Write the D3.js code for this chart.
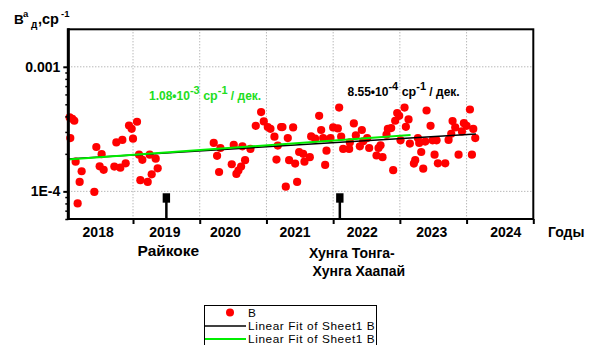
<!DOCTYPE html>
<html>
<head>
<meta charset="utf-8">
<script src="https://cdn.jsdelivr.net/npm/d3@7/dist/d3.min.js"></script>
<style>
  html, body { margin: 0; padding: 0; background: #fff; }
  svg { display: block; font-family: "Liberation Sans", Arial, sans-serif; }
  .axis path, .axis line { stroke: #000; }
  .axis text { font-family: "Liberation Sans", Arial, sans-serif; font-weight: bold; fill: #000; }
</style>
</head>
<body>
<svg id="chart" width="594" height="345"></svg>
<script>
// Measurement dates (decimal years)
const obsYears = [
  2018.05, 2018.09, 2018.12, 2018.06, 2018.14, 2018.23, 2018.20, 2018.17, 2018.42, 2018.45,
  2018.53, 2018.50, 2018.56, 2018.75, 2018.84, 2018.72, 2018.81, 2018.89, 2018.94, 2018.98,
  2019.06, 2019.00, 2019.09, 2019.14, 2019.25, 2019.34, 2019.37, 2019.28, 2019.11, 2019.22,
  2020.21, 2020.31, 2020.26, 2020.51, 2020.64, 2020.76, 2020.68, 2020.48, 2020.62, 2020.58,
  2020.55, 2020.29, 2020.92, 2020.96, 2020.84, 2021.02, 2021.06, 2021.12, 2021.22, 2021.17,
  2021.15,
  2022.09, 2021.79, 2021.24, 2021.40, 2021.32, 2021.82, 2022.00, 2022.07, 2022.31, 2022.43,
  2022.82, 2021.67, 2021.73, 2021.85, 2021.96, 2022.12, 2022.34, 2022.51, 2022.25, 2022.45,
  2022.80, 2021.90, 2022.15, 2022.24, 2022.40, 2022.54, 2022.68, 2022.71, 2022.65, 2022.74,
  2021.49, 2021.55, 2021.65, 2021.34, 2021.43, 2021.57, 2021.88, 2021.29, 2021.46,
  2023.07, 2022.96, 2022.99, 2022.93, 2023.13, 2022.87, 2023.09, 2023.40, 2023.46, 2024.05,
  2023.79, 2023.83, 2023.96, 2024.00, 2024.10, 2023.93, 2023.77, 2024.13, 2023.73, 2023.01,
  2023.15, 2023.27, 2023.29, 2023.38, 2023.49, 2023.55, 2023.32, 2023.52, 2023.88, 2024.08,
  2023.23, 2023.21, 2023.57, 2023.68, 2023.35, 2022.90
];
// B values, in units of 1e-4 sr^-1
const obsB = [
  3.92, 3.82, 3.69, 2.68, 1.73, 1.45, 1.19, 0.80, 0.99, 2.27,
  1.99, 1.59, 1.49, 2.47, 2.59, 1.58, 1.55, 1.68, 3.38, 3.18,
  3.62, 2.65, 1.97, 1.79, 1.97, 1.83, 1.53, 1.37, 1.23, 1.19,
  2.45, 2.23, 1.93, 2.36, 2.30, 2.19, 1.78, 1.65, 1.58, 1.47,
  1.38, 1.43, 4.33, 3.64, 3.36, 3.28, 3.18, 2.75, 3.28, 2.33,
  1.80,
  4.71, 4.04, 3.28, 3.26, 2.68, 3.11, 3.26, 3.20, 3.51, 3.11,
  3.17, 2.76, 2.65, 2.68, 2.68, 2.75, 2.81, 2.68, 2.47, 2.52,
  2.85, 2.12, 2.19, 2.19, 2.30, 2.23, 2.23, 2.34, 1.94, 1.88,
  2.07, 2.00, 1.88, 1.78, 1.67, 1.73, 1.63, 1.09, 1.19,
  4.71, 4.25, 4.04, 3.69, 3.78, 3.22, 3.30, 4.46, 3.36, 4.54,
  3.67, 3.26, 3.53, 3.36, 3.17, 3.03, 2.90, 2.68, 2.59, 2.57,
  2.42, 2.68, 2.45, 2.51, 2.57, 2.57, 2.07, 1.97, 1.97, 1.97,
  1.78, 1.67, 1.68, 1.68, 1.52, 1.48
];

// Linear fits: full record (black) and up to early 2023 (green)
const fitAllYears = [2018.02, 2024.14];
const fitAllB = [1.82, 2.89];
const fitPartYears = [2018.02, 2023.16];
const fitPartB = [1.80, 2.84];

// Volcanic eruptions
const eruptionYears = [2019.5, 2022.1];
const eruptionLevel = 0.885; // 1e-4 sr^-1
const eruptionNames = [["Райкоке"], ["Хунга Тонга-", "Хунга Хаапай"]];

// Axis ticks
const yTickValues = [1e-4, 1e-3];
const yTickLabels = ["1E-4", "0.001"];
const yMinorTicks = [6e-5, 7e-5, 8e-5, 9e-5, 2e-4, 3e-4, 4e-4, 5e-4, 6e-4, 7e-4, 8e-4, 9e-4];
const yearBounds = [2019, 2020, 2021, 2022, 2023, 2024, 2025];
const yearLabels = ["2018", "2019", "2020", "2021", "2022", "2023", "2024"];
const yearLabelPos = [2018.47, 2019.47, 2020.38, 2021.42, 2022.43, 2023.47, 2024.58];

const svg = d3.select("#chart");
const plotL = 68.3, plotR = 533.3, plotT = 29.3, plotB = 219;

const x = d3.scaleLinear().domain([2018.03, 2025]).range([plotL, plotR]);
const y = d3.scaleLog().domain([6e-5, 2e-3]).range([plotB, plotT]);

// Dotted grid
const grid = svg.append("g");
grid.selectAll("line.v").data(yearBounds.slice(0, -1)).join("line")
  .attr("class", "v")
  .attr("x1", d => x(d)).attr("x2", d => x(d))
  .attr("y1", plotT).attr("y2", plotB)
  .attr("stroke", "#9a9a9a").attr("stroke-width", 1).attr("stroke-dasharray", "1,2");
grid.selectAll("line.h").data(yTickValues).join("line")
  .attr("class", "h")
  .attr("x1", plotL).attr("x2", plotR)
  .attr("y1", d => y(d)).attr("y2", d => y(d))
  .attr("stroke", "#9a9a9a").attr("stroke-width", 1).attr("stroke-dasharray", "1,2");

// Data points
const pts = obsYears.map((t, i) => ({ t, b: obsB[i] * 1e-4 }));
svg.append("g").selectAll("circle").data(pts).join("circle")
  .attr("cx", d => x(d.t)).attr("cy", d => y(d.b)).attr("r", 4.1)
  .attr("fill", "#ff0000");

// Fit lines
const line = d3.line().x(d => x(d[0])).y(d => y(d[1] * 1e-4));
svg.append("path").datum(fitAllYears.map((t, i) => [t, fitAllB[i]]))
  .attr("d", line).attr("fill", "none").attr("stroke", "#000").attr("stroke-width", 1.6);
svg.append("path").datum(fitPartYears.map((t, i) => [t, fitPartB[i]]))
  .attr("d", line).attr("fill", "none").attr("stroke", "#00ee00").attr("stroke-width", 2);

// Eruption markers: drop lines with square heads
const er = svg.append("g");
er.selectAll("line").data(eruptionYears).join("line")
  .attr("x1", d => x(d)).attr("x2", d => x(d))
  .attr("y1", y(eruptionLevel * 1e-4)).attr("y2", plotB)
  .attr("stroke", "#000").attr("stroke-width", 2.5);
er.selectAll("rect").data(eruptionYears).join("rect")
  .attr("x", d => x(d) - 3.7).attr("y", y(eruptionLevel * 1e-4) - 4.7)
  .attr("width", 7.4).attr("height", 9.4).attr("fill", "#000");

// Axes
const yAxis = svg.append("g").attr("class", "axis").attr("transform", `translate(${plotL},0)`)
  .call(d3.axisLeft(y).tickValues(yTickValues)
    .tickFormat((d, i) => yTickLabels[i]).tickSize(5).tickPadding(3));
yAxis.selectAll("text").style("font-size", "14px");
yAxis.selectAll("line").attr("stroke-width", 2);
yAxis.select(".domain").remove();

const yMinor = svg.append("g").attr("class", "axis").attr("transform", `translate(${plotL},0)`)
  .call(d3.axisLeft(y).tickValues(yMinorTicks).tickFormat("").tickSize(3));
yMinor.selectAll("line").attr("stroke-width", 1.5);
yMinor.select(".domain").remove();

const xAxis = svg.append("g").attr("class", "axis").attr("transform", `translate(0,${plotB})`)
  .call(d3.axisBottom(x).tickValues(yearBounds).tickFormat("").tickSize(5));
xAxis.selectAll("line").attr("stroke-width", 2);
xAxis.select(".domain").remove();

const xLabels = svg.append("g").attr("class", "axis").attr("transform", `translate(0,${plotB})`)
  .call(d3.axisBottom(x).tickValues(yearLabelPos)
    .tickFormat((d, i) => yearLabels[i]).tickSize(0).tickPadding(8));
xLabels.selectAll("text").style("font-size", "14px");
xLabels.select(".domain").remove();

// Frame
svg.append("rect").attr("x", plotL).attr("y", plotT)
  .attr("width", plotR - plotL).attr("height", plotB - plotT)
  .attr("fill", "none").attr("stroke", "#000").attr("stroke-width", 2);
svg.append("line").attr("x1", plotL).attr("x2", plotL).attr("y1", plotT - 1).attr("y2", plotB + 1)
  .attr("stroke", "#000").attr("stroke-width", 3);

// Axis titles
const yt = svg.append("text").attr("font-weight", "bold").attr("font-size", 13.5).attr("fill", "#000");
yt.append("tspan").attr("x", 14).attr("y", 24).text("B");
yt.append("tspan").attr("x", 23).attr("y", 17).attr("font-size", 9.5).text("a");
yt.append("tspan").attr("x", 31).attr("y", 28).attr("font-size", 10).text("д");
yt.append("tspan").attr("x", 38).attr("y", 24).attr("font-size", 14.5).text(",ср");
yt.append("tspan").attr("x", 61).attr("y", 17).attr("font-size", 9.5).text("-1");

svg.append("text").attr("x", 548).attr("y", 237)
  .attr("font-weight", "bold").attr("font-size", 14).text("Годы");

// Eruption names
const en = svg.append("g").attr("font-weight", "bold").attr("font-size", 14).attr("text-anchor", "middle");
en.append("text").attr("x", x(eruptionYears[0]) + 2).attr("y", 256)
  .attr("font-size", 15.5).text(eruptionNames[0][0]);
en.append("text").attr("x", x(eruptionYears[1]) + 12).attr("y", 258).text(eruptionNames[1][0]);
en.append("text").attr("x", x(eruptionYears[1]) + 19).attr("y", 276).text(eruptionNames[1][1]);

// Trend annotations
function trendLabel(x0, y0, color, mant, expo) {
  const t = svg.append("text").attr("x", x0).attr("y", y0)
    .attr("font-weight", "bold").attr("font-size", 12).attr("fill", color);
  t.append("tspan").text(mant + "\u202210");
  t.append("tspan").attr("dy", -6).attr("font-size", 11).text(expo);
  t.append("tspan").attr("dy", 6).attr("font-size", 12.5).text(" ср");
  t.append("tspan").attr("dy", -6).attr("font-size", 11).text("-1");
  t.append("tspan").attr("dy", 6).attr("font-size", 12).text(" / дек.");
}
trendLabel(149, 100, "#22dd22", "1.08", "-3");
trendLabel(347.5, 95.5, "#000", "8.55", "-4");

// Legend
const lg = svg.append("g").attr("font-size", 11.8).attr("letter-spacing", 0.6);
lg.append("rect").attr("x", 204.5).attr("y", 305.5).attr("width", 172).attr("height", 45)
  .attr("fill", "#fff").attr("stroke", "#000").attr("stroke-width", 1);
lg.append("circle").attr("cx", 230).attr("cy", 312.5).attr("r", 4).attr("fill", "#ff0000");
lg.append("text").attr("x", 248).attr("y", 316.5).text("B");
lg.append("line").attr("x1", 205).attr("x2", 246).attr("y1", 326).attr("y2", 326)
  .attr("stroke", "#000").attr("stroke-width", 1.6);
lg.append("text").attr("x", 248).attr("y", 329.8).text("Linear Fit of Sheet1 B");
lg.append("line").attr("x1", 205).attr("x2", 246).attr("y1", 339).attr("y2", 339)
  .attr("stroke", "#00ee00").attr("stroke-width", 2);
lg.append("text").attr("x", 248).attr("y", 343).text("Linear Fit of Sheet1 B");
</script>
</body>
</html>
